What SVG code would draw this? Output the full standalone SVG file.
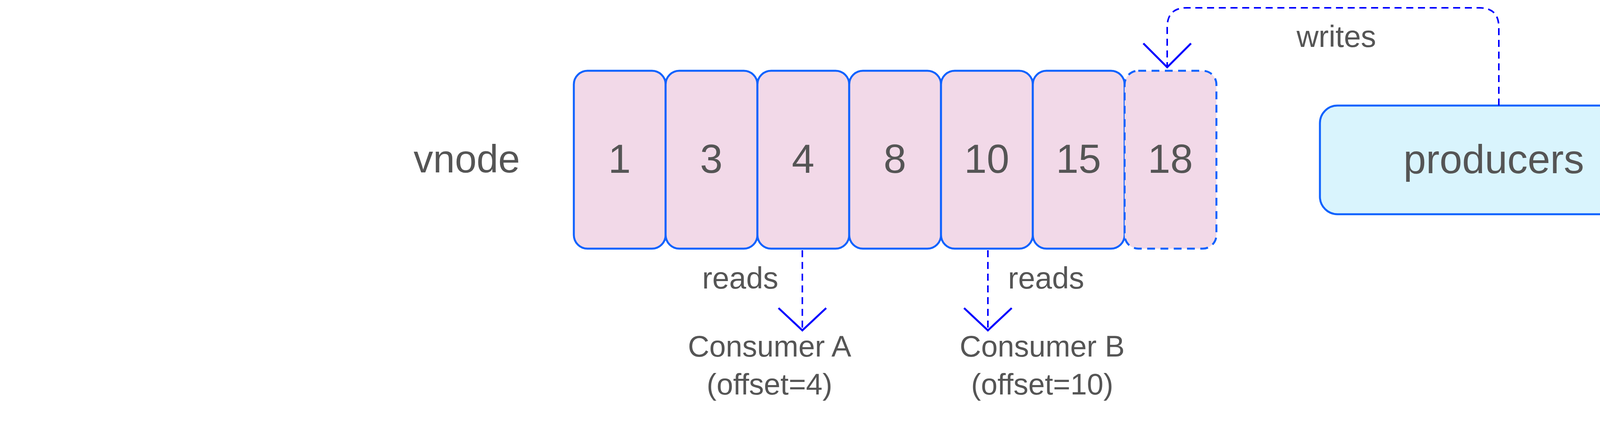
<svg xmlns="http://www.w3.org/2000/svg" width="5314" height="1082" viewBox="0 0 5314 1082">
<style>
.t{font-family:"Liberation Sans","DejaVu Sans",sans-serif;fill:#555555;text-anchor:middle}
.cell{fill:#f2d9e8;stroke:#0f62fe;stroke-width:5}
.c{fill:none;stroke:#0000ff;stroke-width:4;stroke-dasharray:18 12}
.ah{fill:none;stroke:#0000ff;stroke-width:5}
</style>
<rect width="5314" height="1082" fill="#ffffff"/>
<text class="t" x="1195" y="441" font-size="100">vnode</text>
<g id="n1"><rect class="cell" x="1469" y="181" width="235" height="455" rx="35"/><text class="t" x="1586" y="442" font-size="104">1</text></g>
<g id="n3"><rect class="cell" x="1704" y="181" width="235" height="455" rx="35"/><text class="t" x="1821" y="442" font-size="104">3</text></g>
<g id="n4"><rect class="cell" x="1939" y="181" width="235" height="455" rx="35"/><text class="t" x="2056" y="442" font-size="104">4</text></g>
<g id="n8"><rect class="cell" x="2174" y="181" width="235" height="455" rx="35"/><text class="t" x="2291" y="442" font-size="104">8</text></g>
<g id="n10"><rect class="cell" x="2409" y="181" width="235" height="455" rx="35"/><text class="t" x="2526" y="442" font-size="104">10</text></g>
<g id="n15"><rect class="cell" x="2644" y="181" width="235" height="455" rx="35"/><text class="t" x="2761" y="442" font-size="104">15</text></g>
<g id="n18"><rect class="cell" x="2879" y="181" width="235" height="455" rx="35" stroke-dasharray="20 14"/><text class="t" x="2996" y="442" font-size="104">18</text></g>
<g id="producers"><rect x="3379" y="270" width="893" height="278" rx="45" fill="#d9f4fd" stroke="#0f62fe" stroke-width="5"/><text class="t" x="3824" y="443" font-size="104">producers</text></g>
<g id="consumerA"><text class="t" x="1970" y="912" font-size="76">Consumer A</text><text class="t" x="1970" y="1009" font-size="76">(offset=4)</text></g>
<g id="consumerB"><text class="t" x="2668" y="912" font-size="76">Consumer B</text><text class="t" x="2668" y="1009" font-size="76">(offset=10)</text></g>
<g id="connectors">
<path class="c" d="M3837 270 V70 Q3837 20 3787 20 H3038 Q2988 20 2988 70 V172"/>
<path class="ah" d="M2927 111 L2988 172 L3049 111"/>
<text class="t" x="3421" y="120" font-size="78">writes</text>
<path class="c" d="M2054 640 V845"/>
<path class="ah" d="M1993 788 L2054 845 L2115 788"/>
<text class="t" x="1895" y="738" font-size="78">reads</text>
<path class="c" d="M2529 640 V845"/>
<path class="ah" d="M2468 788 L2529 845 L2590 788"/>
<text class="t" x="2678" y="738" font-size="78">reads</text>
</g>
</svg>
